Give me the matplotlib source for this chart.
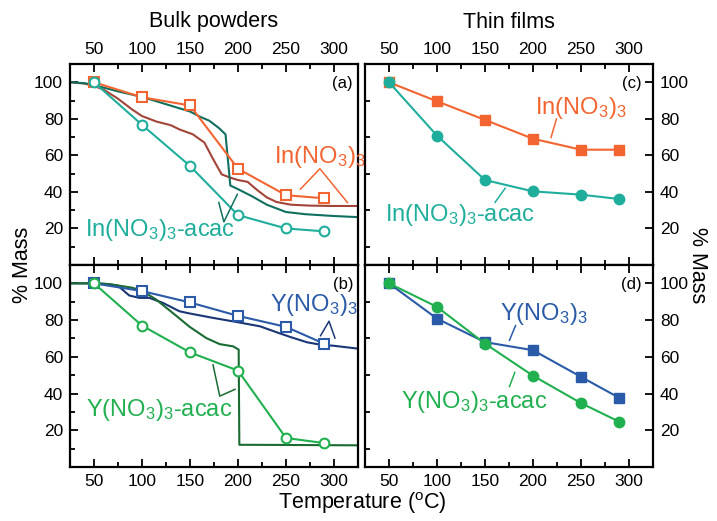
import matplotlib
matplotlib.use('Agg')
import matplotlib.pyplot as plt
from matplotlib.ticker import MultipleLocator

plt.rcParams['font.family'] = ['Liberation Sans', 'DejaVu Sans']
plt.rcParams['mathtext.fontset'] = 'custom'
plt.rcParams['mathtext.rm'] = 'Liberation Sans'
plt.rcParams['mathtext.it'] = 'Liberation Sans'

# sampled temperatures (oC)
temps = [50, 100, 150, 200, 250, 290]

# bulk powders, sample points
in_bulk = [100, 91.8, 87.3, 52.7, 38.2, 36.5]
in_acac_bulk = [100, 76.7, 54.2, 27.3, 20.0, 18.4]
y_bulk = [100, 95.8, 89.6, 82.3, 76.3, 67.1]
y_acac_bulk = [100, 77.0, 62.4, 52.5, 15.8, 13.0]

# thin films
in_film = [100, 89.6, 79.4, 69.1, 63.1, 63.1]
in_acac_film = [100, 70.8, 46.5, 40.3, 38.5, 36.1]
y_film = [100, 80.8, 68.0, 63.6, 49.1, 37.6]
y_acac_film = [100, 87.2, 67.2, 49.7, 34.8, 24.6]

# TGA curves (bulk powders)
tga_in_t = [25, 40, 50, 60, 75, 90, 100, 115, 130, 139, 153, 165, 174, 183, 192, 200, 210,
            220, 230, 240, 255, 275, 300, 325]
tga_in_m = [100, 99.3, 98, 96, 91, 85, 81.5, 78.5, 76.5, 74.2, 71.5, 67, 58, 49.6, 47.8, 46.5,
            45.5, 41, 37, 34.5, 33, 32.5, 32.3, 32.3]
tga_in_acac_t = [25, 40, 50, 75, 100, 125, 150, 161, 170, 180, 187, 192, 200, 215, 230, 250,
                 270, 300, 325]
tga_in_acac_m = [100, 99.5, 98.5, 95, 92, 88, 84, 81, 79, 75, 71.5, 43.5, 41.5, 37.5, 33, 29,
                 27.8, 26.8, 26.2]
tga_y_t = [25, 50, 60, 74.5, 86.7, 97.2, 107.7, 121.7, 139, 149.7, 174, 200.3, 223, 240.6,
           254.5, 272, 286, 300, 326]
tga_y_m = [100, 100, 99.8, 98.9, 93.4, 92.1, 92.1, 89.4, 84.8, 83.6, 81.2, 78.8, 76.6, 73.3,
           70.8, 67.9, 66.6, 66.0, 64.4]
tga_y_acac_t = [25, 50, 65.7, 90.2, 100.7, 114.7, 132, 149.7, 167, 181, 195, 200.7, 201.4,
                250, 326]
tga_y_acac_m = [100, 100, 99.6, 97.6, 95.8, 91.2, 83.9, 76.3, 70.2, 66.9, 65.7, 63.9, 12.1,
                12.0, 11.8]

orange = '#f26531'
brown = '#a24438'
teal = '#1fae9c'
dteal = '#10705f'
blue = '#2a5aa8'
navy = '#1b3677'
green = '#20b04f'
dgreen = '#1a6b32'

fig = plt.figure(figsize=(7.17, 5.21), dpi=100)
W, H = 717, 521


def make_ax(x0, y0, x1, y1):
    return fig.add_axes([x0 / W, 1 - y1 / H, (x1 - x0) / W, (y1 - y0) / H])


ax_a = make_ax(70, 64, 358, 265)
ax_b = make_ax(70, 265, 358, 467)
ax_c = make_ax(365, 64, 653, 265)
ax_d = make_ax(365, 265, 653, 467)

for ax in (ax_a, ax_b, ax_c, ax_d):
    ax.set_xlim(25, 325)
    ax.set_ylim(0, 110)
    ax.xaxis.set_major_locator(MultipleLocator(50))
    ax.xaxis.set_minor_locator(MultipleLocator(25))
    ax.set_yticks([20, 40, 60, 80, 100])
    ax.yaxis.set_minor_locator(MultipleLocator(10))
    for s in ax.spines.values():
        s.set_linewidth(1.6)
    ax.tick_params(which='both', direction='in', width=1.3, labelsize=12.5, top=True, bottom=True)
    ax.tick_params(which='major', length=6)
    ax.tick_params(which='minor', length=3.5)

for ax in (ax_a, ax_c):
    ax.tick_params(labeltop=True, labelbottom=False, pad=5)
for ax in (ax_b, ax_d):
    ax.tick_params(labeltop=False, labelbottom=True, pad=5)
for ax in (ax_a, ax_b):
    ax.tick_params(axis='y', left=True, right=False, labelleft=True)
for ax in (ax_c, ax_d):
    ax.tick_params(axis='y', left=False, right=True, labelleft=False, labelright=True)

lw = 1.5
open_mk = dict(markersize=7, markerfacecolor='white', markeredgewidth=1.5)

# (a) In bulk
ax_a.plot(tga_in_t, tga_in_m, color=brown, lw=lw)
ax_a.plot(tga_in_acac_t, tga_in_acac_m, color=dteal, lw=lw)
ax_a.plot(temps, in_bulk, color=orange, lw=lw, marker='s', markeredgecolor=orange, **open_mk)
ax_a.plot(temps, in_acac_bulk, color=teal, lw=lw, marker='o', markeredgecolor=teal, **open_mk)
ax_a.text(238, 56, r'In(NO$_3$)$_3$', color=orange, fontsize=17, va='baseline')
ax_a.plot([265, 285.3, 314], [41.5, 52.7, 34.2], color=orange, lw=1.1)
ax_a.text(41, 15.6, r'In(NO$_3$)$_3$-acac', color=teal, fontsize=17, va='baseline')
ax_a.plot([180, 185.3, 199.3], [34.2, 23.6, 38.7], color=dteal, lw=1.1)

# (b) Y bulk
ax_b.plot(tga_y_t, tga_y_m, color=navy, lw=lw)
ax_b.plot(tga_y_acac_t, tga_y_acac_m, color=dgreen, lw=lw)
ax_b.plot(temps, y_bulk, color=blue, lw=lw, marker='s', markeredgecolor=blue, **open_mk)
ax_b.plot(temps, y_acac_bulk, color=green, lw=lw, marker='o', markeredgecolor=green, **open_mk)
ax_b.text(233.6, 85.2, r'Y(NO$_3$)$_3$', color=blue, fontsize=17, va='baseline')
ax_b.plot([286, 294.8, 301], [71.5, 79.4, 70.2], color=navy, lw=1.1)
ax_b.text(42, 27.9, r'Y(NO$_3$)$_3$-acac', color=green, fontsize=17, va='baseline')
ax_b.plot([174, 181, 196.9], [55.6, 38.6, 42.3], color=dgreen, lw=1.1)

# (c) In films
ax_c.plot(temps, in_film, color=orange, lw=lw, marker='s', markersize=7)
ax_c.plot(temps, in_acac_film, color=teal, lw=lw, marker='o', markersize=7.5)
ax_c.text(202, 82.6, r'In(NO$_3$)$_3$', color=orange, fontsize=17, va='baseline')
ax_c.plot([218.8, 224.4], [69.8, 79.9], color=orange, lw=1.1)
ax_c.text(45.5, 24.2, r'In(NO$_3$)$_3$-acac', color=teal, fontsize=17, va='baseline')
ax_c.plot([160.5, 171], [34.3, 42], color=teal, lw=1.1)

# (d) Y films
ax_d.plot(temps, y_film, color=blue, lw=lw, marker='s', markersize=7)
ax_d.plot(temps, y_acac_film, color=green, lw=lw, marker='o', markersize=7.5)
ax_d.text(165.8, 80, r'Y(NO$_3$)$_3$', color=blue, fontsize=17, va='baseline')
ax_d.plot([175.5, 181.8], [69, 77], color=blue, lw=1.1)
ax_d.text(62.9, 31.9, r'Y(NO$_3$)$_3$-acac', color=green, fontsize=17, va='baseline')
ax_d.plot([175.5, 181], [43.8, 51.5], color=green, lw=1.1)

for ax, lab, xf in ((ax_a, '(a)', 0.983), (ax_b, '(b)', 0.983), (ax_c, '(c)', 0.962), (ax_d, '(d)', 0.962)):
    ax.text(xf, 0.905, lab, transform=ax.transAxes, ha='right', va='center', fontsize=12)

fig.text(214 / W, 1 - 22 / H, 'Bulk powders', ha='center', va='center', fontsize=15.5)
fig.text(509 / W, 1 - 22 / H, 'Thin films', ha='center', va='center', fontsize=15.5)
fig.text(362 / W, 1 - 503 / H, r'Temperature ($^\mathrm{o}$C)', ha='center', va='center', fontsize=15.5)
fig.text(22 / W, 1 - 265 / H, '% Mass', ha='center', va='center', rotation=90, fontsize=15.5)
fig.text(697 / W, 1 - 265 / H, '% Mass', ha='center', va='center', rotation=270, fontsize=15.5)

fig.savefig('out.png', dpi=100)
